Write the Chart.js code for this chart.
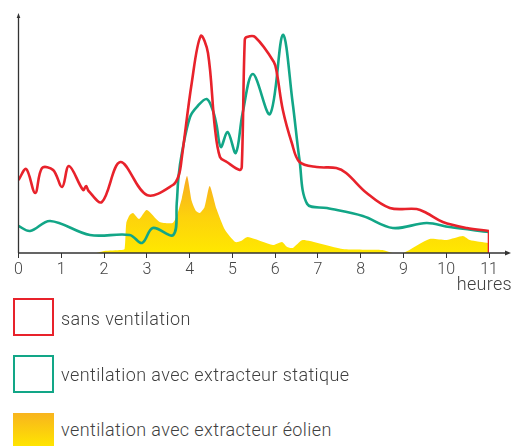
<!DOCTYPE html>
<html>
<head>
<meta charset="utf-8">
<script src="https://cdn.jsdelivr.net/npm/chart.js@4"></script>
<style>
  html, body { margin: 0; padding: 0; background: #fff; }
  body { width: 515px; height: 446px; position: relative; overflow: hidden; font-family: Roboto, "Open Sans", sans-serif; font-weight: 300; color: #3f3f3f; }
  #c { position: absolute; left: 0; top: 0; }
  .unit { position: absolute; right: 3px; top: 273px; font-size: 18px; line-height: 22px; letter-spacing: 0.3px; }
  .lg { position: absolute; left: 13px; width: 41px; height: 38px; box-sizing: border-box; }
  .lt { position: absolute; left: 61px; font-size: 18px; line-height: 22px; letter-spacing: 0.4px; }
</style>
</head>
<body>
<canvas id="c" width="515" height="300"></canvas>
<div class="unit">heures</div>
<div class="lg" style="top:298px;border:2.5px solid #E8222B;"></div>
<div class="lt" style="top:308px;">sans ventilation</div>
<div class="lg" style="top:355px;border:2.5px solid #12A687;"></div>
<div class="lt" style="top:364px;">ventilation avec extracteur statique</div>
<div class="lg" style="top:413px;height:34px;background:linear-gradient(#F8B41E,#FFE600);"></div>
<div class="lt" style="top:419px;">ventilation avec extracteur éolien</div>
<script>
const hourTicks = [0,1,2,3,4,5,6,7,8,9,10,11];

const redHours  = [0,0.18,0.39,0.55,0.81,1.02,1.18,1.51,1.58,1.64,1.95,2.38,3.0,3.61,3.75,3.82,4.05,4.26,4.43,4.59,4.71,4.87,5.17,5.22,5.29,5.34,5.53,5.97,6.04,6.18,6.39,6.57,6.97,7.43,7.66,8.14,8.68,9.31,9.54,9.92,10.48,11];
const redValues = [73,84,60,85,83,66,87,63,67,62,51,91,58,68,78,96,170,217,200,126,96,91,83,86,213,216,216,191,180,143,110,91,86,85,80,60,45,44,40,31,25,22];

const greenHours  = [0,0.27,0.74,1.67,2.6,2.89,3.14,3.62,3.70,3.74,3.82,4.01,4.19,4.40,4.54,4.63,4.73,4.89,5.08,5.24,5.48,5.88,6.18,6.41,6.57,6.75,7.21,8.05,8.75,9.54,10.08,11];
const greenValues = [27,22,32,18,18,10,25,18,50,76,100,136,147,154,143,128,106,121,100,140,179,139,218,150,93,49,45,37,25,30,26,21];

const eolHours  = [0,1.8,2.0,2.4,2.48,2.52,2.6,2.68,2.82,3.0,3.3,3.6,3.7,3.82,3.94,4.05,4.15,4.24,4.35,4.47,4.63,4.83,5.07,5.2,5.36,5.95,6.16,6.28,6.41,6.65,7.58,8.51,8.75,9.0,9.61,10.01,10.39,10.55,10.99];
const eolValues = [0,0,2,3,4,30,38,40,34,43,31,30,37,55,77,52,42,40,46,67,44,23,11,12,16,8,11,6,5,13,4,3,0,0,14,13,17,13,10];

const RED = '#E8222B', GREEN = '#12A687';
const pts = (xs, ys) => xs.map((x, i) => ({ x: x, y: ys[i] }));

const axisPlugin = {
  id: 'axes',
  afterDatasetsDraw(chart) {
    const ctx = chart.ctx;
    const x0 = chart.scales.x.getPixelForValue(0);
    const y0 = chart.scales.y.getPixelForValue(0);
    ctx.save();
    ctx.strokeStyle = '#333'; ctx.fillStyle = '#333'; ctx.lineWidth = 1.3;
    ctx.beginPath();
    ctx.moveTo(x0, y0); ctx.lineTo(507, y0);
    ctx.moveTo(x0, y0); ctx.lineTo(x0, 17);
    ctx.stroke();
    ctx.beginPath(); ctx.moveTo(511, y0); ctx.lineTo(505, y0 - 2.5); ctx.lineTo(505, y0 + 2.5); ctx.closePath(); ctx.fill();
    ctx.beginPath(); ctx.moveTo(x0, 13); ctx.lineTo(x0 - 1.8, 18); ctx.lineTo(x0 + 1.8, 18); ctx.closePath(); ctx.fill();
    ctx.restore();
  }
};

new Chart(document.getElementById('c'), {
  type: 'line',
  data: {
    datasets: [
      { data: pts(redHours, redValues), borderColor: RED, borderWidth: 2.6, tension: 0.35, pointRadius: 0, fill: false },
      { data: [{x: 11, y: 22}, {x: 11, y: 0}], borderColor: RED, borderWidth: 2.6, tension: 0, pointRadius: 0, fill: false },
      { data: pts(greenHours, greenValues), borderColor: GREEN, borderWidth: 2.6, tension: 0.35, pointRadius: 0, fill: false },
      { data: pts(eolHours, eolValues), borderWidth: 0, tension: 0.2, pointRadius: 0, fill: 'origin',
        backgroundColor(ctx) {
          const ch = ctx.chart, a = ch.chartArea;
          if (!a) return '#FFE600';
          const y = ch.scales.y;
          const g = ch.ctx.createLinearGradient(0, y.getPixelForValue(80), 0, y.getPixelForValue(0));
          g.addColorStop(0, '#F7A822');
          g.addColorStop(0.55, '#FDD20C');
          g.addColorStop(1, '#FFE800');
          return g;
        } }
    ]
  },
  options: {
    responsive: false,
    devicePixelRatio: 1,
    animation: false,
    layout: { padding: { left: 18.5, top: 15, right: 26, bottom: 0 } },
    plugins: { legend: { display: false }, tooltip: { enabled: false } },
    scales: {
      x: {
        type: 'linear', min: 0, max: 11,
        afterBuildTicks(s) { s.ticks = hourTicks.map(v => ({ value: v })); },
        afterFit(s) { s.height = 47; },
        border: { display: false },
        grid: { drawOnChartArea: false, drawTicks: true, tickLength: 5, color: '#333', lineWidth: 1 },
        ticks: { padding: 2, color: '#444', font: { family: 'Roboto', size: 16, weight: '300' }, maxRotation: 0, autoSkip: false }
      },
      y: { min: 0, max: 238, display: false }
    }
  },
  plugins: [axisPlugin]
});
</script>
</body>
</html>
